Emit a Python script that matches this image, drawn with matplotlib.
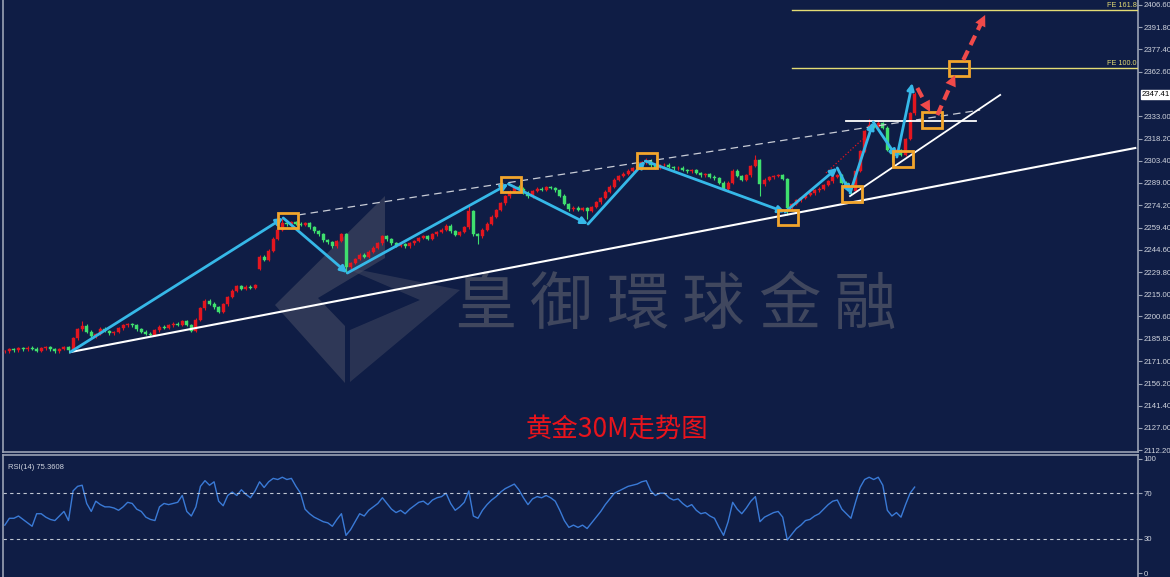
import matplotlib
matplotlib.use("Agg")
import matplotlib.pyplot as plt
from matplotlib.patches import Rectangle, Polygon

plt.rcParams['font.family'] = ['Liberation Sans', 'DejaVu Sans']

# ---- data (30M gold candles) ----
closes = [
    2177.5, 2179.0, 2178.2, 2179.5, 2178.8, 2180.0, 2179.2, 2178.0, 2179.6, 2180.4,
    2178.9, 2177.6, 2179.1, 2180.2, 2178.3, 2186.0, 2192.0, 2194.5, 2190.5, 2187.5,
    2189.0, 2192.5, 2191.0, 2189.5, 2190.2, 2192.8, 2194.6, 2195.5, 2194.8, 2192.0,
    2190.6, 2189.2, 2188.6, 2191.5, 2193.8, 2192.9, 2194.6, 2195.8, 2195.0, 2197.5,
    2195.0, 2191.2, 2198.5, 2206.0, 2211.0, 2209.0, 2206.5, 2203.5, 2208.5, 2213.5,
    2217.5, 2220.5, 2219.0, 2220.2, 2219.6, 2221.3, 2240.0, 2238.0, 2244.0, 2252.0,
    2258.0, 2262.5, 2261.5, 2263.0, 2262.0, 2261.0, 2262.3, 2259.5, 2257.0, 2255.0,
    2251.0, 2249.5, 2247.0, 2250.5, 2255.0, 2233.0, 2236.0, 2238.5, 2241.5, 2240.0,
    2243.5, 2246.0, 2249.0, 2253.5, 2251.5, 2249.0, 2247.5, 2248.5, 2247.0, 2249.0,
    2250.5, 2252.5, 2253.5, 2252.0, 2255.0, 2256.5, 2258.0, 2260.5, 2257.0, 2254.5,
    2256.5, 2259.5, 2270.0, 2255.0, 2253.5, 2258.0, 2262.0, 2266.5, 2271.0, 2275.5,
    2280.0, 2283.0, 2286.5, 2285.0, 2282.5, 2280.0, 2283.5, 2285.0, 2284.5, 2286.0,
    2285.5, 2284.0, 2280.5, 2275.0, 2271.5, 2272.5, 2271.0, 2272.0, 2270.5, 2273.0,
    2276.0, 2279.0, 2283.0, 2286.5, 2291.0, 2293.5, 2295.0, 2297.0, 2298.5, 2300.0,
    2302.5, 2303.5, 2300.5, 2299.0, 2300.5, 2301.0, 2299.5, 2298.5, 2299.0, 2297.5,
    2296.5, 2297.5, 2295.5, 2294.0, 2294.5, 2293.0, 2292.0, 2289.0, 2285.0, 2289.0,
    2297.0, 2293.5, 2291.0, 2294.0, 2300.0, 2304.0, 2288.0, 2291.0, 2292.5, 2293.5,
    2294.0, 2291.5, 2272.0, 2275.0, 2277.5, 2279.0, 2281.0, 2282.0, 2284.0, 2285.0,
    2287.5, 2290.0, 2293.0, 2294.0, 2289.0, 2286.5, 2283.5, 2297.0, 2310.0, 2323.0,
    2327.5, 2326.0, 2328.5, 2325.5, 2311.0, 2308.0, 2310.5, 2307.5, 2318.0, 2335.0,
    2347.41,
]
open_gaps = {56: 2232.0}
high_marks = {17: 2197.5, 61: 2265.5, 102: 2274.5, 141: 2305.5, 165: 2307.5,
              190: 2331.0, 192: 2330.5, 200: 2349.0}
low_marks = {14: 2176.5, 75: 2229.5, 104: 2248.5, 128: 2265.0, 166: 2280.5,
             172: 2267.5, 186: 2281.0, 195: 2303.0}

rsi = [
    42, 48, 48, 50, 47, 44, 41, 52, 52, 49, 47, 46, 50, 54, 46, 72, 76, 77, 61, 54,
    63, 60, 58, 58, 57, 55, 58, 62, 61, 56, 54, 49, 47, 46, 58, 61, 60, 61, 62, 68,
    54, 50, 58, 76, 81, 77, 80, 63, 59, 68, 71, 68, 73, 69, 66, 72, 80, 75, 80, 83,
    82, 84, 82, 83, 76, 70, 56, 52, 49, 47, 45, 44, 41, 47, 52, 33, 38, 45, 52, 50,
    55, 58, 61, 66, 61, 56, 53, 55, 52, 56, 59, 62, 63, 60, 64, 66, 67, 70, 61, 55,
    58, 62, 72, 50, 48, 55, 60, 64, 67, 71, 74, 76, 78, 73, 66, 60, 65, 67, 66, 68,
    66, 63, 55, 46, 40, 42, 40, 42, 39, 44, 49, 54, 60, 65, 70, 72, 74, 76, 77, 78,
    80, 81, 72, 68, 70, 70, 66, 64, 65, 61, 58, 60, 55, 52, 53, 50, 48, 40, 33, 45,
    62, 56, 52, 57, 63, 67, 45, 49, 51, 53, 54, 49, 29, 34, 39, 42, 46, 47, 50, 52,
    56, 60, 63, 64, 56, 52, 48, 62, 75, 82, 84, 82, 84, 77, 55, 50, 53, 49, 60, 70,
    75.3608,
]

price_ticks = [2406.60, 2391.80, 2377.40, 2362.60, 2333.00, 2318.20, 2303.40,
               2289.00, 2274.20, 2259.40, 2244.60, 2229.80, 2215.00, 2200.60,
               2185.80, 2171.00, 2156.20, 2141.40, 2127.00, 2112.20]
rsi_ticks = [100, 70, 30, 0]
last_price = 2347.41
fe_levels = [(2403.3, "FE 161.8"), (2364.9, "FE 100.0")]

# zigzag swing points (bar index, price)
swings = [(14.4, 2177.0), (61.2, 2265.7), (75.3, 2229.3), (110.7, 2288.2),
          (128.2, 2261.7), (140.8, 2303.4), (171.5, 2269.6), (183.0, 2298.8),
          (185.8, 2282.2), (190.9, 2329.2), (196.1, 2306.0), (199.5, 2355.0)]
boxes = [(62.2, 2264.0), (111.3, 2287.8), (141.2, 2303.7), (172.1, 2266.3),
         (186.3, 2281.6), (197.5, 2304.7), (203.8, 2330.5), (209.7, 2364.3)]
red_arrows = [((200.6, 2351.7), (203.4, 2335.8)),
              ((205.0, 2333.8), (208.9, 2360.3)),
              ((210.7, 2370.2), (215.5, 2400.0))]

BG = '#0f1d45'
UP = '#e3161f'
DOWN = '#3fe06e'
BLUE = '#36b8e8'
ORANGE = '#f2a52c'
AXIS = '#9aa2b4'
TXT = '#d0d4de'

W, H = 1170, 577
fig = plt.figure(figsize=(W / 100, H / 100), dpi=100, facecolor=BG)
ax = fig.add_axes([3 / W, 1 - 452 / H, 1135 / W, 452 / H], facecolor=BG)
ax2 = fig.add_axes([3 / W, 0, 1135 / W, 1 - 455 / H], facecolor=BG)


def frac(x, y):
    # pixel position inside the main panel -> axes fraction
    return ((x - 3) / 1135, 1 - y / 452)


# ---- watermark ----
wm = '#4a5066'
logo_a = [frac(385, 196), frac(385, 258), frac(318, 298), frac(345, 326),
          frac(345, 383), frac(275, 305)]
logo_b = [frac(350, 268), frac(460, 290), frac(350, 382), frac(350, 330),
          frac(420, 300), frac(350, 270)]
for pts, a in [(logo_a, 0.55), (logo_b, 0.45)]:
    ax.add_patch(Polygon(pts, closed=True, transform=ax.transAxes,
                         facecolor=wm, edgecolor='none', alpha=a, zorder=0))
for k, ch in enumerate("皇御環球金融"):
    fx, fy = frac(485 + 76 * k, 306)
    ax.text(fx, fy, ch, transform=ax.transAxes, ha='center', va='center',
            fontsize=45, color='#40475e', family=['Noto Sans CJK TC'], zorder=0)

# ---- candles ----
n = len(closes)
opens = [closes[0]] + closes[:-1]
for i, o in open_gaps.items():
    opens[i] = o
for i in range(n):
    o, c = opens[i], closes[i]
    col = UP if c >= o else DOWN
    hi = high_marks.get(i, max(o, c) + 0.9)
    lo = low_marks.get(i, min(o, c) - 0.9)
    ax.vlines(i, lo, hi, color=col, lw=0.8, zorder=2)
    ax.add_patch(Rectangle((i - 0.33, min(o, c)), 0.66, max(abs(c - o), 0.35),
                           facecolor=col, edgecolor=col, lw=0.3, zorder=3))

# ---- trend lines ----
ax.plot([14.4, 248.5], [2177.0, 2312.0], color='white', lw=1.5, zorder=4)
ax.plot([64.5, 214.4], [2267.7, 2337.1], color='#c8ccd6', lw=0.9,
        dashes=(6, 4), zorder=4)
ax.plot([184.9, 213.5], [2329.9, 2329.9], color='white', lw=1.3, zorder=4)
ax.plot([185.8, 218.8], [2280.2, 2347.1], color='white', lw=1.3, zorder=4)
ax.plot([180.5, 188.6], [2295.5, 2318.0], color=UP, lw=0.9, ls=':', zorder=4)

# ---- zigzag arrows ----
for (x0, y0), (x1, y1) in zip(swings[:-1], swings[1:]):
    ax.annotate('', xy=(x1, y1), xytext=(x0, y0), zorder=5,
                arrowprops=dict(arrowstyle='-|>', color=BLUE, lw=2,
                                mutation_scale=10, shrinkA=0, shrinkB=0))

# ---- orange boxes ----
for bx, by in boxes:
    ax.add_patch(Rectangle((bx - 2.2, by - 5.0), 4.4, 10.0, facecolor='none',
                           edgecolor=ORANGE, lw=2, zorder=6))

# ---- red projection arrows ----
for (x0, y0), (x1, y1) in red_arrows:
    ax.plot([x0, x0 + 0.8 * (x1 - x0)], [y0, y0 + 0.8 * (y1 - y0)],
            color='#f04a4a', lw=3, dashes=(2.5, 1.5), zorder=6)
    ax.annotate('', xy=(x1, y1), xytext=(x0 + 0.7 * (x1 - x0), y0 + 0.7 * (y1 - y0)),
                zorder=6, arrowprops=dict(arrowstyle='-|>', color='#f04a4a', lw=0,
                                          mutation_scale=20, shrinkA=0, shrinkB=0))

# ---- fibonacci expansion levels ----
for lvl, lab in fe_levels:
    ax.plot([173.1, 249.1], [lvl, lvl], color='#e4dc74', lw=1, zorder=4)
    ax.text(248.8, lvl + 0.6, lab, color='#e4dc74', fontsize=5.2,
            ha='right', va='bottom', zorder=7)

# ---- title ----
ax.text(*frac(617, 429), "黄金30M走势图", transform=ax.transAxes, ha='center',
        va='center', fontsize=19, color='#e8141c', family=['Noto Sans CJK SC'],
        zorder=7)

ax.set_xlim(-0.4, 249.1)
ax.set_ylim(2110.9, 2409.9)
ax.set_xticks([])
ax.yaxis.tick_right()
ax.set_yticks(price_ticks)
ax.set_yticklabels([f"{t:.2f}" for t in price_ticks])
ax.tick_params(axis='y', colors=AXIS, labelcolor=TXT, labelsize=5.6,
               length=3, width=0.8, pad=1)
ax.text(1.0035, last_price, f"{last_price:.2f}", transform=ax.get_yaxis_transform(),
        fontsize=5.6, color='black', va='center', ha='left',
        bbox=dict(boxstyle='square,pad=0.15', facecolor='white', edgecolor='white'))

# ---- RSI panel ----
ax2.plot(range(n), rsi, color='#3a7ad6', lw=1)
for lvl in (70, 30):
    ax2.axhline(lvl, color='#c0c6d2', lw=0.8, dashes=(3, 3))
ax2.set_xlim(-0.4, 249.1)
ax2.set_ylim(-3.5, 103.5)
ax2.set_xticks([])
ax2.yaxis.tick_right()
ax2.set_yticks(rsi_ticks)
ax2.tick_params(axis='y', colors=AXIS, labelcolor=TXT, labelsize=5.6,
                length=3, width=0.8, pad=1)
ax2.text(0.004, 0.93, "RSI(14) 75.3608", transform=ax2.transAxes,
         fontsize=5.5, color=TXT, va='top', ha='left')

for a in (ax, ax2):
    for side in ('left', 'right', 'top', 'bottom'):
        a.spines[side].set_color(AXIS)
        a.spines[side].set_linewidth(1.2)
ax.spines['top'].set_visible(False)
ax2.spines['bottom'].set_visible(False)

fig.savefig('out.png', dpi=100, facecolor=BG)
